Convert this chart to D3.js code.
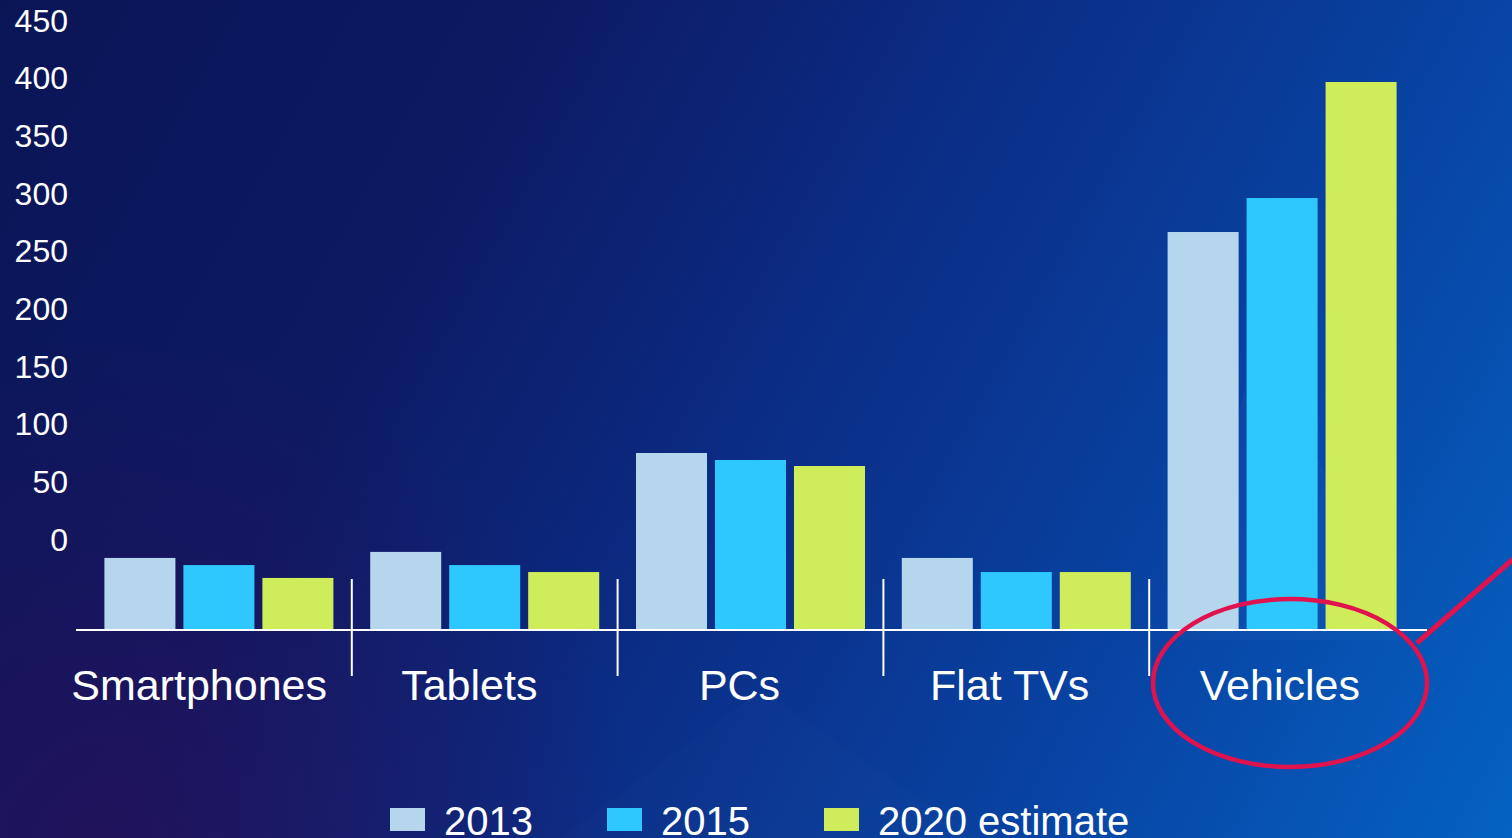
<!DOCTYPE html>
<html>
<head>
<meta charset="utf-8">
<script type="text/javascript" src="https://d3js.org/d3.v7.min.js"></script>
<style>
  body { margin: 0; overflow: hidden; }
  svg { display: block; }
  text { font-family: "Liberation Sans", Arial, sans-serif; fill: #ffffff; }
</style>
</head>
<body>
<div id="viz"></div>
<script type="text/javascript">

// data
var categories = ["Smartphones", "Tablets", "PCs", "Flat TVs", "Vehicles"];
var series = ["2013", "2015", "2020 estimate"];
var values2013 = [52.6, 57, 129.2, 52.6, 290.5];
var values2015 = [47.4, 47.4, 124.1, 42.3, 315.3];
var values2020 = [38, 42.3, 119.7, 42.3, 400];
var tickValues = [0, 50, 100, 150, 200, 250, 300, 350, 400, 450];
var colors = ["#b6d6ee", "#2ec8fe", "#cfed5a"];

var width = 1512, height = 838;

var svg = d3.select("#viz")
    .append("svg")
    .attr("width", width)
    .attr("height", height);

// background
var defs = svg.append("defs");
var bg = defs.append("linearGradient")
    .attr("id", "bg")
    .attr("gradientUnits", "userSpaceOnUse")
    .attr("x1", 0).attr("y1", 0)
    .attr("x2", width).attr("y2", height);
[["0", "#0a1556"], ["0.28", "#0d1a63"], ["0.5", "#0b2c84"], ["0.76", "#0844a4"], ["1", "#0462c2"]]
    .forEach(function(s){
        bg.append("stop").attr("offset", s[0]).attr("stop-color", s[1]);
    });
var purple = defs.append("radialGradient")
    .attr("id", "purple")
    .attr("gradientUnits", "userSpaceOnUse")
    .attr("cx", 120).attr("cy", 860).attr("r", 520);
purple.append("stop").attr("offset", "0").attr("stop-color", "#2a0f58").attr("stop-opacity", 0.7);
purple.append("stop").attr("offset", "1").attr("stop-color", "#2a0f58").attr("stop-opacity", 0);

svg.append("rect").attr("width", width).attr("height", height).attr("fill", "url(#bg)");
svg.append("rect").attr("width", width).attr("height", height).attr("fill", "url(#purple)");

// faint facets in the background
svg.append("path")
    .attr("d", "M1180,640 L1260,330 L1400,640 Z")
    .attr("fill", "#ffffff").attr("opacity", 0.025);
svg.append("path")
    .attr("d", "M560,838 L760,690 L980,838 Z")
    .attr("fill", "#ffffff").attr("opacity", 0.012);

// scales
var x0 = d3.scaleBand()
    .domain(categories)
    .range([86, 1415]);

var groupWidth = 229;
var x1 = d3.scaleBand()
    .domain(series)
    .range([(x0.step() - groupWidth) / 2, (x0.step() + groupWidth) / 2])
    .paddingInner(0.101);

var y = d3.scaleLinear()
    .domain([0, 450])
    .range([630, 630 - 450 * 1.37]);

// tick labels sit higher than the bars on the slide
var yTicks = d3.scaleLinear()
    .domain([0, 450])
    .range([540, 21]);

var xLabels = d3.scaleBand()
    .domain(categories)
    .range([64, 1415]);

var color = d3.scaleOrdinal().domain(series).range(colors);

var rows = categories.map(function(c, i){
    return { category: c, values: [values2013[i], values2015[i], values2020[i]] };
});

// bars
var groups = svg.selectAll("g.group")
    .data(rows)
    .enter().append("g")
    .attr("class", "group")
    .attr("transform", function(d){ return "translate(" + x0(d.category) + ",0)"; });

groups.selectAll("rect")
    .data(function(d){ return series.map(function(s, j){ return { key: s, value: d.values[j] }; }); })
    .enter().append("rect")
    .attr("x", function(d){ return x1(d.key); })
    .attr("width", x1.bandwidth())
    .attr("y", function(d){ return y(d.value); })
    .attr("height", function(d){ return y(0) - y(d.value); })
    .style("fill", function(d){ return color(d.key); });

// y labels
var yAxis = svg.append("g")
    .attr("transform", "translate(68,0)")
    .call(d3.axisLeft(yTicks).tickValues(tickValues).tickSize(0).tickPadding(0));
yAxis.select(".domain").remove();
yAxis.selectAll("text")
    .style("font-size", "32px")
    .style("font-family", "'Liberation Sans', Arial, sans-serif")
    .attr("fill", "#ffffff");

// baseline and separators
svg.append("line")
    .attr("x1", 76).attr("x2", 1427)
    .attr("y1", y(0)).attr("y2", y(0))
    .style("stroke", "#ffffff")
    .style("stroke-width", 2);

svg.selectAll("line.sep")
    .data(categories.slice(1))
    .enter().append("line")
    .attr("class", "sep")
    .attr("x1", function(d){ return x0(d); })
    .attr("x2", function(d){ return x0(d); })
    .attr("y1", 579).attr("y2", 676)
    .style("stroke", "#ffffff")
    .style("stroke-width", 2);

// category labels
svg.selectAll("text.cat")
    .data(categories)
    .enter().append("text")
    .attr("class", "cat")
    .attr("x", function(d){ return xLabels(d) + xLabels.bandwidth() / 2; })
    .attr("y", 700)
    .attr("text-anchor", "middle")
    .style("font-size", "43px")
    .text(function(d){ return d; });

// legend (runs off the bottom edge like the slide)
var legend = svg.selectAll("g.legend")
    .data(series)
    .enter().append("g")
    .attr("class", "legend")
    .attr("transform", function(d, i){ return "translate(" + (390 + i * 217) + ",808)"; });
legend.append("rect")
    .attr("width", 35).attr("height", 23)
    .style("fill", function(d){ return color(d); });
legend.append("text")
    .attr("x", 54).attr("y", 27)
    .style("font-size", "40px")
    .text(function(d){ return d; });

// red highlight around Vehicles
svg.append("ellipse")
    .attr("cx", 1290).attr("cy", 683)
    .attr("rx", 137).attr("ry", 84)
    .style("fill", "none")
    .style("stroke", "#e0134f")
    .style("stroke-width", 4.5);
svg.append("line")
    .attr("x1", 1417).attr("y1", 643)
    .attr("x2", 1535).attr("y2", 540)
    .style("stroke", "#e0134f")
    .style("stroke-width", 5);

</script>
</body>
</html>
